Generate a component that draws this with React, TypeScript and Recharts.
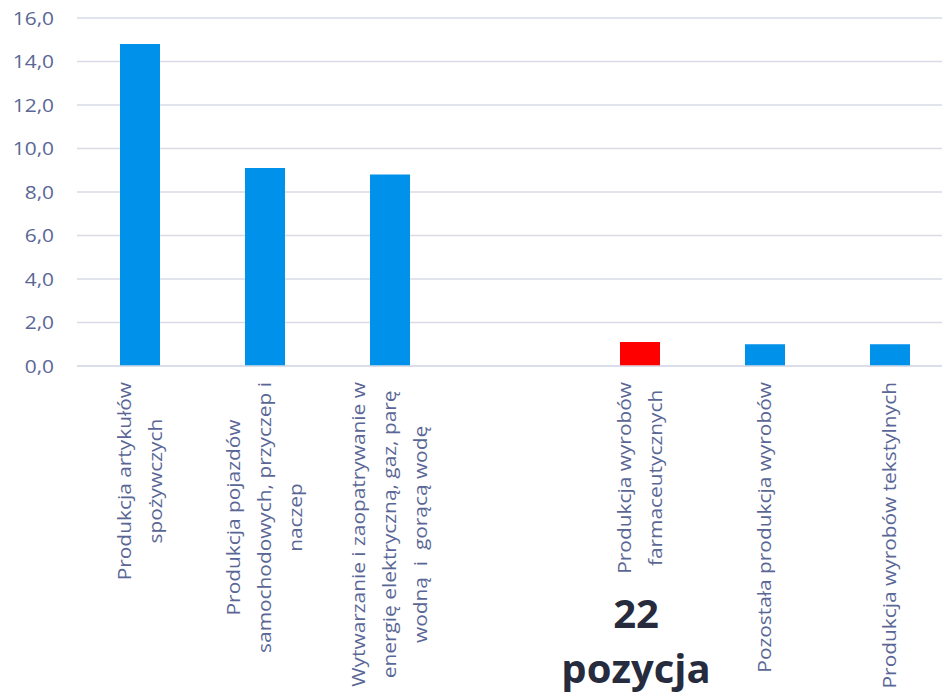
import { BarChart, Bar, XAxis, YAxis, CartesianGrid, Cell } from "recharts";

const categories = [
  "Produkcja artykułów\nspożywczych",
  "Produkcja pojazdów\nsamochodowych, przyczep i\nnaczep",
  "Wytwarzanie i zaopatrywanie w\nenergię elektryczną, gaz, parę\nwodną  i  gorącą wodę",
  " ",
  "Produkcja wyrobów\nfarmaceutycznych",
  "Pozostała produkcja wyrobów",
  "Produkcja wyrobów tekstylnych",
];
const values = [14.8, 9.1, 8.8, null, 1.1, 1.0, 1.0];
const highlighted = [false, false, false, false, true, false, false];
const yTicks = [0, 2, 4, 6, 8, 10, 12, 14, 16];
const noteLines = ["22", "pozycja"];

const BLUE = "#0091ea";
const RED = "#ff0000";
const TEXT = "#5a6796";
const GRID = "#d9dbe7";
const FONT = '"Open Sans", sans-serif';
const LABEL_SIZE = 18;
// the source font runs a bit wider than Open Sans, so widen the glyphs
const STRETCH = 1.16;
const LINE_GAP = 31;

const chartData = categories.map((name, i) => ({
  name,
  value: values[i],
  hot: highlighted[i],
}));

let ctx: CanvasRenderingContext2D | null = null;
function textWidth(s: string) {
  if (!ctx) {
    ctx = document.createElement("canvas").getContext("2d");
  }
  if (!ctx) return s.length * LABEL_SIZE * 0.55;
  ctx.font = `${LABEL_SIZE}px "Open Sans"`;
  return ctx.measureText(s).width;
}

function CategoryTick(props: any) {
  const { x, y, payload } = props;
  const lines = String(payload.value)
    .split("\n")
    .filter((l) => l.trim() !== "");
  if (!lines.length) return null;
  const maxW = Math.max(...lines.map(textWidth)) * STRETCH;
  const cy = y + maxW / 2;
  const n = lines.length;
  return (
    <g>
      {lines.map((line, i) => {
        const lx = x + (i - (n - 1) / 2) * LINE_GAP;
        return (
          <text
            key={i}
            x={0}
            y={0}
            transform={`translate(${lx} ${cy}) rotate(-90) scale(${STRETCH} 1)`}
            textAnchor="middle"
            dominantBaseline="central"
            fill={TEXT}
            fontSize={LABEL_SIZE}
            fontFamily={FONT}
            style={{ whiteSpace: "pre" }}
          >
            {line}
          </text>
        );
      })}
    </g>
  );
}

function ValueTick(props: any) {
  const { x, y, payload } = props;
  return (
    <text
      x={0}
      y={0}
      transform={`translate(${x} ${y}) scale(${STRETCH} 1)`}
      textAnchor="end"
      dominantBaseline="central"
      fill={TEXT}
      fontSize={18}
      fontFamily={FONT}
    >
      {Number(payload.value).toFixed(1).replace(".", ",")}
    </text>
  );
}

export default function App() {
  return (
    <div
      style={{
        position: "absolute",
        left: 0,
        top: 0,
        width: 942,
        height: 694,
        overflow: "hidden",
        background: "#fff",
      }}
    >
      <BarChart
        width={960}
        height={694}
        data={chartData}
        margin={{ top: 18, right: 8, bottom: 0, left: 0 }}
      >
        <CartesianGrid vertical={false} stroke={GRID} strokeWidth={1.5} />
        <XAxis
          dataKey="name"
          interval={0}
          height={328}
          tickLine={false}
          tickSize={0}
          tickMargin={16}
          axisLine={{ stroke: GRID, strokeWidth: 1.5 }}
          tick={<CategoryTick />}
        />
        <YAxis
          width={77}
          domain={[0, 16]}
          ticks={yTicks}
          axisLine={false}
          tickLine={false}
          tickSize={0}
          tickMargin={23}
          tick={<ValueTick />}
        />
        <Bar dataKey="value" barSize={40} isAnimationActive={false}>
          {chartData.map((d, i) => (
            <Cell key={i} fill={d.hot ? RED : BLUE} />
          ))}
        </Bar>
      </BarChart>
      <svg
        width={942}
        height={694}
        style={{ position: "absolute", left: 0, top: 0, pointerEvents: "none" }}
      >
        {noteLines.map((t, i) => (
          <text
            key={t}
            x={636}
            y={628 + i * 55}
            textAnchor="middle"
            fontFamily={FONT}
            fontWeight={700}
            fontSize={40}
            fill="#262b3e"
          >
            {t}
          </text>
        ))}
      </svg>
    </div>
  );
}
